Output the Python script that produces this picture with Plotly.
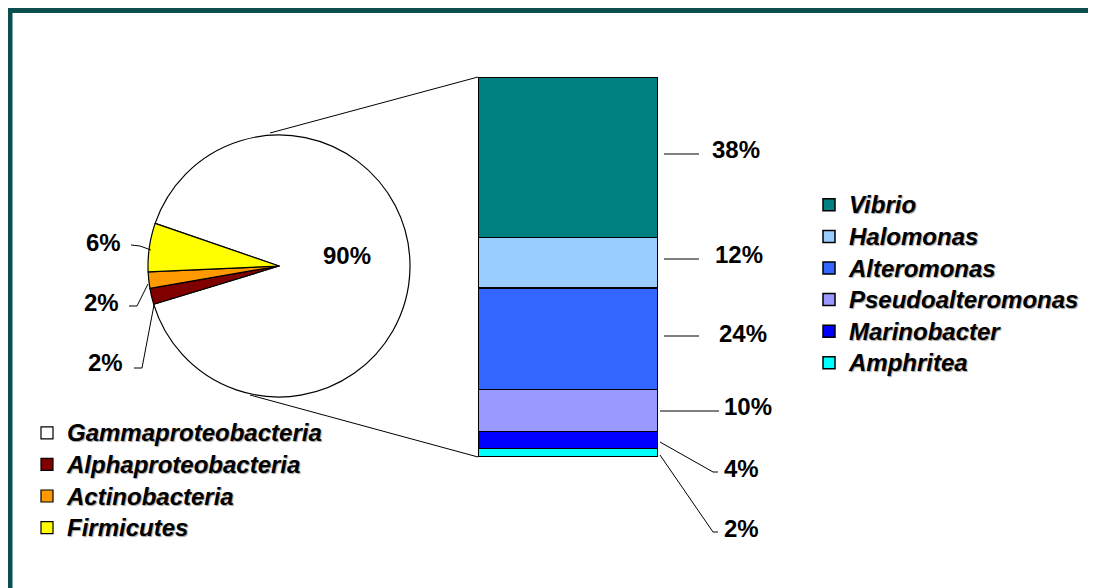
import plotly.graph_objects as go

# ---------------- data ----------------
phyla = ["Gammaproteobacteria", "Alphaproteobacteria", "Actinobacteria", "Firmicutes"]
phyla_pct = [90, 2, 2, 6]
phyla_colors = ["#FFFFFF", "#800000", "#FF9900", "#FFFF00"]

genera = ["Vibrio", "Halomonas", "Alteromonas", "Pseudoalteromonas", "Marinobacter", "Amphritea"]
genera_pct = [38, 12, 24, 10, 4, 2]
genera_colors = ["#008080", "#99CCFF", "#3366FF", "#9999FF", "#0000FF", "#00FFFF"]

# ---------------- layout helpers (page pixels -> paper) ----------------
PAGE_OFF = 8                      # default body margin of the html page
W, H = 1096 - PAGE_OFF, 588 - PAGE_OFF
def px(x):
    return (x - PAGE_OFF) / W
def py(y):
    return 1 - (y - PAGE_OFF) / H
def path(points):
    return "M " + " L ".join(f"{px(x):.5f},{py(y):.5f}" for x, y in points)

FONT = "Liberation Sans, Arial, sans-serif"
PIE_CX, PIE_CY, PIE_R = 279, 266, 131
BAR_X0, BAR_X1, BAR_TOP, BAR_BOT = 478, 658, 77, 457

fig = go.Figure()

fig.add_trace(go.Pie(
    labels=[f'<span style="font-size:24px">{p}</span>' for p in phyla],
    values=phyla_pct, sort=False, direction="clockwise",
    rotation=-71, textinfo="none", hoverinfo="percent",
    marker=dict(colors=phyla_colors, line=dict(color="black", width=1.2)),
    domain=dict(x=[px(PIE_CX - PIE_R), px(PIE_CX + PIE_R)],
                y=[py(PIE_CY + PIE_R), py(PIE_CY - PIE_R)]),
    legend="legend", showlegend=True,
))

for name, val, col in reversed(list(zip(genera, genera_pct, genera_colors))):
    fig.add_trace(go.Bar(
        x=[0], y=[val], name=f'<span style="font-size:24px">{name}</span>', width=1,
        marker=dict(color=col, line=dict(color="black", width=1.5)),
        legend="legend2", hoverinfo="y",
    ))

shapes = []
# outer frame: top and left edges
frame = dict(color="#0B4F4F", width=5)
shapes.append(dict(type="line", xref="paper", yref="paper",
                   x0=px(8), x1=1.0, y0=py(10.5), y1=py(10.5), line=frame, layer="above"))
shapes.append(dict(type="line", xref="paper", yref="paper",
                   x0=px(10), x1=px(10), y0=py(8), y1=0.0, line=frame, layer="above"))
line_style = dict(color="black", width=1)
# connectors pie -> bar
for pts in [[(270, 133), (BAR_X0, BAR_TOP)], [(250, 395), (BAR_X0, BAR_BOT)]]:
    shapes.append(dict(type="path", xref="paper", yref="paper", path=path(pts), line=line_style))
# pie leader lines
for pts in [[(131, 245), (140, 246), (151, 250)],
            [(129, 306), (137, 306), (148, 284)],
            [(134, 368), (142, 368), (154, 305)]]:
    shapes.append(dict(type="path", xref="paper", yref="paper", path=path(pts), line=line_style))
# bar leader lines
for pts in [[(664, 154), (699, 154)],
            [(664, 259), (699, 259)],
            [(664, 336), (699, 336)],
            [(660, 411), (719, 411)],
            [(660, 442), (713, 472), (718, 472)],
            [(660, 455), (713, 532), (718, 532)]]:
    shapes.append(dict(type="path", xref="paper", yref="paper", path=path(pts), line=line_style))

pct_font = dict(family=FONT, size=24, color="black", weight="bold")
annotations = []
pie_label_pos = [(347, 255), (105, 363), (101, 302), (103, 242)]
for v, (x, y) in zip(phyla_pct, pie_label_pos):
    annotations.append(dict(x=px(x), y=py(y), xref="paper", yref="paper", text=f"{v}%",
                            showarrow=False, font=pct_font, xanchor="center", yanchor="middle"))
bar_label_pos = [(736, 150), (739, 254), (743, 333), (748, 406), (741, 468), (741, 528)]
for v, (x, y) in zip(genera_pct, bar_label_pos):
    annotations.append(dict(x=px(x), y=py(y), xref="paper", yref="paper", text=f"{v}%",
                            showarrow=False, font=pct_font, xanchor="center", yanchor="middle"))

legend_font = dict(family=FONT, size=22, color="black", weight="bold", style="italic",
                   shadow="1px 1px 1px #a0a0a0")

fig.update_layout(
    width=W, height=H,
    margin=dict(l=0, r=0, t=0, b=0),
    paper_bgcolor="white", plot_bgcolor="rgba(0,0,0,0)",
    barmode="stack",
    xaxis=dict(visible=False, range=[-0.5, 0.5], domain=[px(BAR_X0), px(BAR_X1)], fixedrange=True),
    yaxis=dict(visible=False, range=[0, sum(genera_pct)], domain=[py(BAR_BOT), py(BAR_TOP)], fixedrange=True),
    legend=dict(x=px(27), y=py(412), xanchor="left", yanchor="top", font=legend_font,
                bgcolor="rgba(0,0,0,0)", traceorder="normal", tracegroupgap=0),
    legend2=dict(x=px(809), y=py(184), xanchor="left", yanchor="top", font=legend_font,
                 bgcolor="rgba(0,0,0,0)", traceorder="reversed", tracegroupgap=0),
    shapes=shapes,
    annotations=annotations,
)

fig.write_html("out.html")
